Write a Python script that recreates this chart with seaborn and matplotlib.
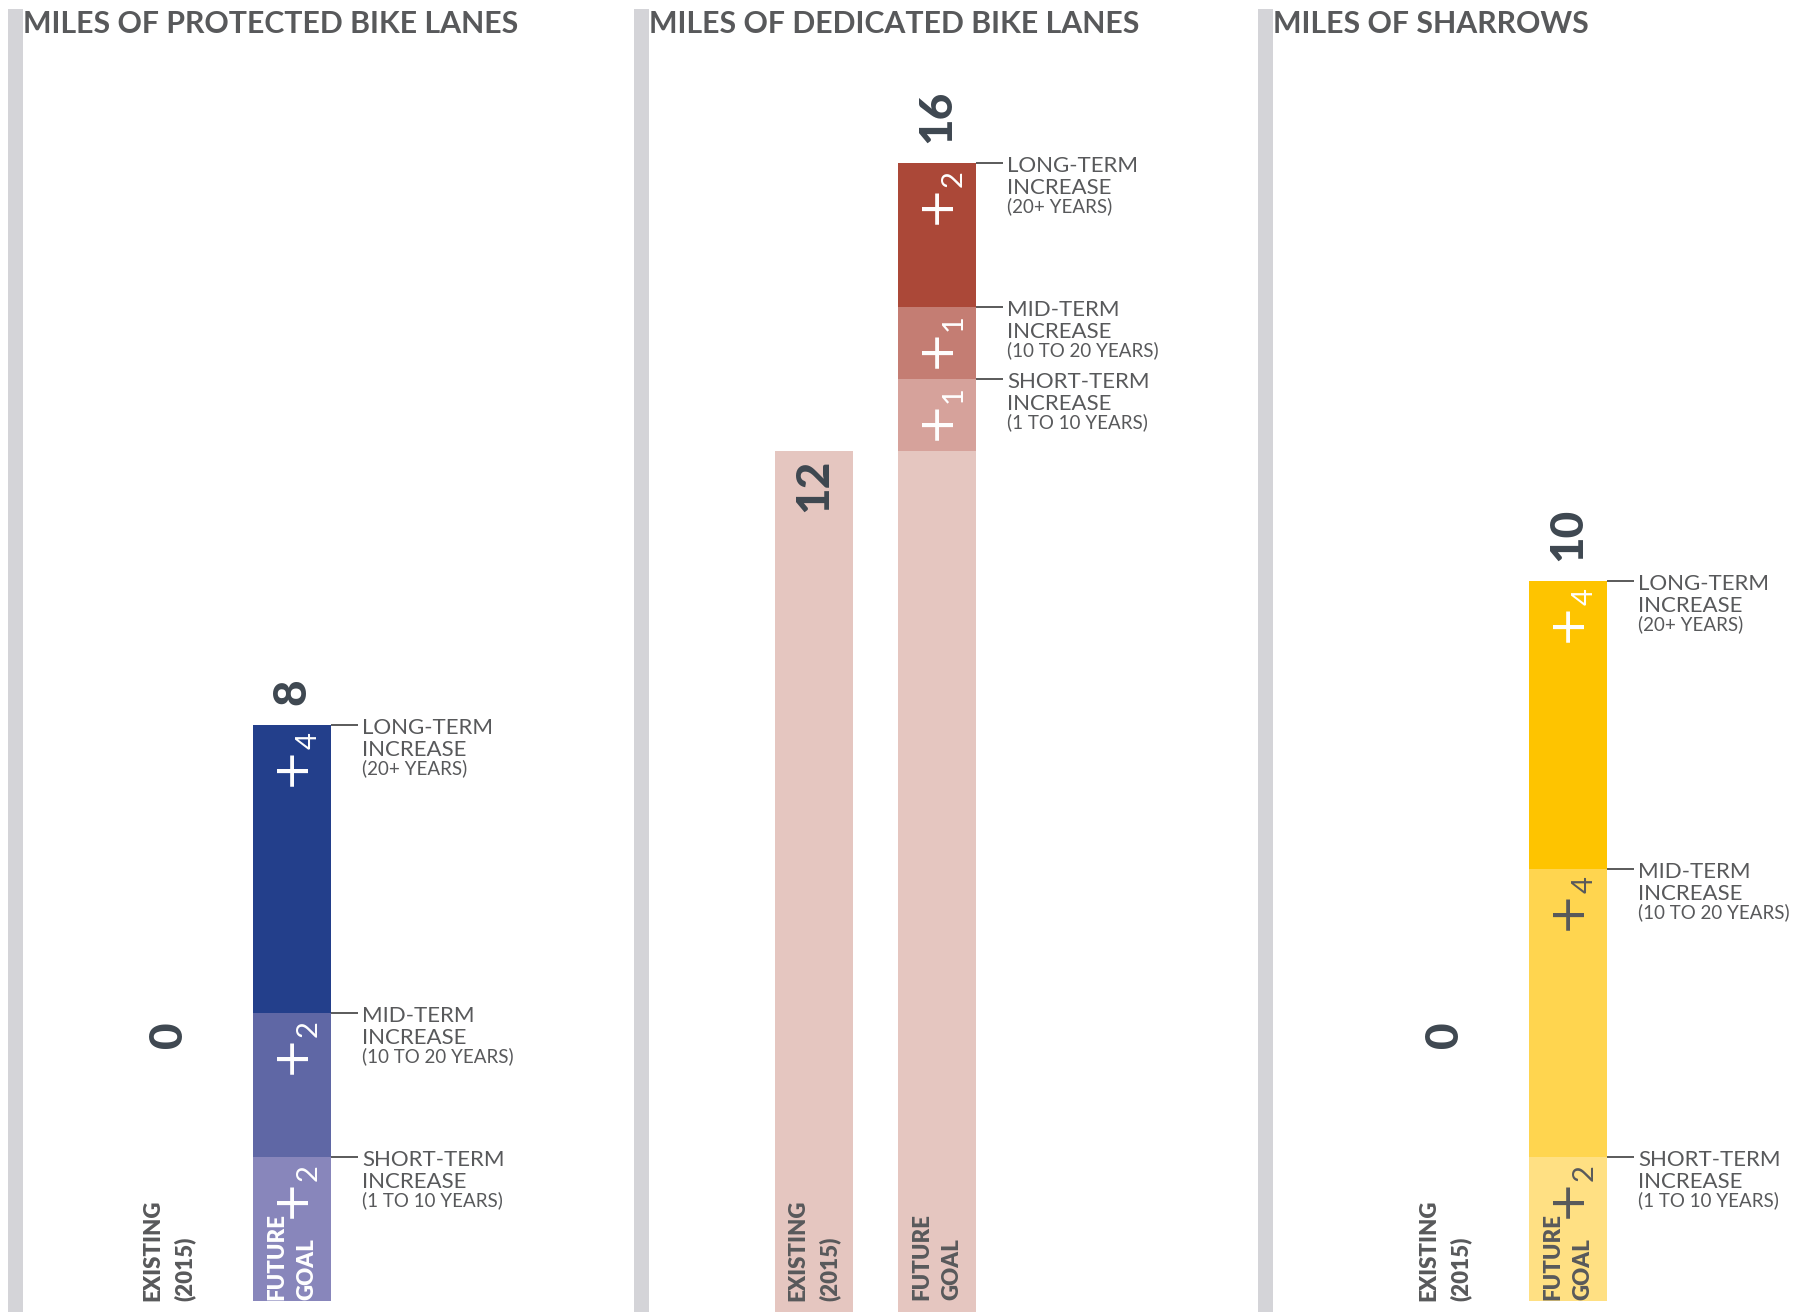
import matplotlib
matplotlib.use("Agg")
import matplotlib.pyplot as plt
from matplotlib import font_manager
import seaborn as sns
import pandas as pd
import numpy as np

# ---- data -------------------------------------------------------------
titles = ["MILES OF PROTECTED BIKE LANES", "MILES OF DEDICATED BIKE LANES", "MILES OF SHARROWS"]
bars = ["EXISTING", "FUTURE"]
existing = [0, 12, 0]
short_term = [2, 1, 2]
mid_term = [2, 1, 4]
long_term = [4, 2, 4]
phase_names = ["SHORT-TERM", "MID-TERM", "LONG-TERM"]
phase_years = ["(1 TO 10 YEARS)", "(10 TO 20 YEARS)", "(20+ YEARS)"]

base_colors = ["#e5c6c0", "#e5c6c0", "#ffe083"]
phase_colors = [["#8886bb", "#5f67a5", "#233f8b"],
                ["#d6a29b", "#c47d73", "#ab4838"],
                ["#ffe083", "#ffd54f", "#fec400"]]
plus_colors = [["white"] * 3, ["white"] * 3, ["#58595b", "#58595b", "white"]]
goal_colors = ["white", "#58595b", "#58595b"]

# ---- style ------------------------------------------------------------
sns.set_style("white")
plt.rcParams["font.family"] = ["Lato", "DejaVu Sans"]
installed = {f.name for f in font_manager.fontManager.ttflist}
narrow = "Liberation Sans Narrow" in installed
label_family = ["Liberation Sans Narrow", "DejaVu Sans"] if narrow else ["Lato", "DejaVu Sans"]
lab_big = 18 if narrow else 16
lab_small = 15 if narrow else 13.5

GREY_TEXT = "#58595b"
NUM_COLOR = "#3e4750"

W, H, DPI = 1798, 1312, 100
PT = 72 / DPI           # points per pixel
PX_X = 123.0            # pixels between the two bar slots
PX_Y = 72.0             # pixels per mile
bar_w = 78 / PX_X

grey_left = [8, 634, 1258]
center0 = [169, 814, 1445]
baseline = [1301, 1315, 1301]
zero_label_y = 3.7

fig = plt.figure(figsize=(W / DPI, H / DPI), dpi=DPI)

for i in range(3):
    left = grey_left[i]
    right = left + 624
    ax = fig.add_axes([left / W, 0, (right - left) / W, (H - 9) / H])
    x0 = (left - center0[i]) / PX_X
    x1 = (right - center0[i]) / PX_X
    y0 = (baseline[i] - H) / PX_Y
    y1 = (baseline[i] - 9) / PX_Y

    steps = [existing[i], short_term[i], mid_term[i], long_term[i]]
    tops = np.cumsum(steps)
    layer_colors = [base_colors[i]] + phase_colors[i]

    # stacked bars: draw cumulative totals tallest first
    for k in range(3, -1, -1):
        if k == 0:
            df = pd.DataFrame({"bar": bars, "miles": [existing[i], existing[i]]})
        else:
            df = pd.DataFrame({"bar": ["FUTURE"], "miles": [tops[k]]})
        sns.barplot(data=df, x="bar", y="miles", order=bars, color=layer_colors[k],
                    saturation=1, width=bar_w, errorbar=None, linewidth=0, ax=ax)

    ax.axvspan(x0, x0 + 15 / PX_X, color="#d4d4d8", lw=0, zorder=0)
    ax.set_xlim(x0, x1)
    ax.set_ylim(y0, y1)
    ax.set_axis_off()

    # panel title
    ax.annotate(titles[i], xy=(0, 1), xycoords="axes fraction",
                xytext=(15 * PT, -24 * PT), textcoords="offset points",
                ha="left", va="baseline", fontsize=21.8, fontweight="bold", color=GREY_TEXT)

    # big totals
    num_kw = dict(rotation=90, fontsize=33, fontweight="black", color=NUM_COLOR,
                  ha="center", textcoords="offset points")
    ax.annotate(f"{tops[-1]:g}", xy=(1, tops[-1]), xytext=(0, 20 * PT), va="bottom", **num_kw)
    if existing[i] > 0:
        ax.annotate(str(existing[i]), xy=(0, existing[i]), xytext=(0, -8 * PT), va="top", **num_kw)
    else:
        ax.annotate("0", xy=(0, zero_label_y), xytext=(0, 0), va="center", **num_kw)

    # bar captions
    cap_kw = dict(xycoords=("data", "axes fraction"), textcoords="offset points",
                  rotation=90, ha="center", va="bottom", multialignment="left",
                  fontsize=16, fontweight="heavy", linespacing=1.55)
    ax.annotate("EXISTING\n(2015)", xy=(0, 0), xytext=(0, 11 * PT), color=GREY_TEXT, **cap_kw)
    ax.annotate("FUTURE\nGOAL", xy=(1, 0), xytext=(0, 12 * PT), color=goal_colors[i], **cap_kw)

    # increments and leader labels
    xa = 1 + bar_w / 2
    for k in range(3):
        top = tops[k + 1]
        ax.annotate("+", xy=(1, top), xytext=(-2 * PT, -40 * PT), textcoords="offset points",
                    rotation=90, ha="center", va="center", fontsize=36, family="DejaVu Sans",
                    fontweight="normal", color=plus_colors[i][k])
        ax.annotate(f"{steps[k + 1]:g}", xy=(1, top), xytext=(17 * PT, -16 * PT),
                    textcoords="offset points", rotation=90, ha="center", va="center",
                    fontsize=21, fontweight="normal", color=plus_colors[i][k])
        ax.plot([xa, xa + 27 / PX_X], [top, top], color="#4d4d4d", lw=1.3,
                solid_capstyle="butt")
        tx = xa + 31 / PX_X
        lab_kw = dict(textcoords="offset points", ha="left", va="center",
                      family=label_family, color=GREY_TEXT)
        ax.annotate(phase_names[k], xy=(tx, top), xytext=(0, -3 * PT), fontsize=lab_big, **lab_kw)
        ax.annotate("INCREASE", xy=(tx, top), xytext=(0, -25 * PT), fontsize=lab_big, **lab_kw)
        ax.annotate(phase_years[k], xy=(tx, top), xytext=(0, -43 * PT), fontsize=lab_small, **lab_kw)

fig.savefig("out.png", dpi=DPI)
